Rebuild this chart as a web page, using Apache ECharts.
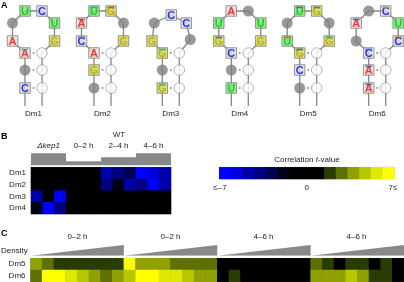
<!DOCTYPE html>
<html><head><meta charset="utf-8">
<style>html,body{margin:0;padding:0;background:#fff}#c{width:404px;height:282px}</style>
<script src="https://cdn.jsdelivr.net/npm/echarts@6/dist/echarts.min.js"></script>
</head><body><div id="c"></div>
<script>
// ---------- data ----------
const motifNames = ['Dm1','Dm2','Dm3','Dm4','Dm5','Dm6'];
// nucleotides, from the bottom of the 5' stem, round the loop; "N" = unconstrained (gray circle)
const motifStems = [['C','N','A'],['N','G','A'],['G','N','G'],['U','N','C'],['N','C','G'],['A','A','C']];
const motifLoops = [
  ['A','N','U','C','U','G'],
  ['C','A','U','G','N','G'],
  ['G','N','C','C','N'],
  ['G','U','A','N','U','G'],
  ['U','N','U','G','N','G'],
  ['N','A','N','C','U','C']
];
// nodes drawn with a compressed minor-letter band at the top of the logo: motif, node key, colour
const logoBands = [
  ['Dm2','L1','#c03030'],['Dm2','L2','#4080d0'],['Dm2','L3','#d03030'],['Dm2','L0','#4060c0'],
  ['Dm4','L0','#4060c0'],['Dm5','L0','#c06030'],['Dm5','L2','#a03060'],['Dm5','L3','#4060c0'],
  ['Dm5','L5','#30a060'],['Dm5','S2','#3050c0'],['Dm6','S2','#4060c0'],['Dm6','S1','#3050c0'],
  ['Dm6','S0','#3050c0'],['Dm6','L3','#a0a030'],['Dm6','L1','#3050c0'],['Dm6','L5','#a06030'],
  ['Dm3','S2','#40a0a0'],['Dm3','S0','#40a0a0'],['Dm1','S2','#40a0a0']
];
const sampleRows = ['Dm1','Dm2','Dm3','Dm4'];
const sampleGroups = ['Δkep1','0–2 h','2–4 h','4–6 h'];
const sampleHeights = [12,4,8,12];
const sampleDm1 = [0,0,0,0,0,0,-5,-4,-3,-7,-6,-5];
const sampleDm2 = [0,0,0,0,0,0,-4,-2,-5,-4,-7,-5];
const sampleDm3 = [-5,0,-7,0,0,0,0,0,0,0,0,0];
const sampleDm4 = [-2,-7,-4,0,0,0,0,0,0,0,0,0];
const densityRows = ['Dm5','Dm6'];
const densityGroups = ['0–2 h','0–2 h','4–6 h','4–6 h'];
const densityDm5 = [4,3,2,2,2,2,2,2, 7,4,4,4,3,3,3,3, 0,0,0,0,0,0,0,0, 3,2,0,2,2,0,2,0];
const densityDm6 = [3,7,7,6,5,4,3,4, 5,7,7,6,6,5,4,4, 0,2,0,0,0,0,0,0, 4,4,4,5,4,2,2,0];
const scaleValues = [-7,-6,-5,-4,-3,-2,-1,0,1,2,3,4,5,6,7];
const scaleLabels = ['≤–7','0','7≤'];
const levelColors = ['#0000ff','#0000dd','#0000aa','#000080','#000055','#00001a','#000000','#000000','#000000','#2a3d00','#5e7000','#8fa000','#b8c800','#e0e800','#ffff00'];

// ---------- styles / layout ----------
const FONT = '"Liberation Sans", Arial, sans-serif';
const TXT = '#222';
const LINE = '#858585';
const NT = {
  A:{fill:'#f3dcd8',ink:'#ee1111'},
  U:{fill:'#72ec72',ink:'#18b818'},
  C:{fill:'#d8dcf0',ink:'#0000cc'},
  G:{fill:'#d8d850',ink:'#a8a818'}
};
const motifX = [25,94,162.3,231.3,299.7,368.7];
const PAIR = 17;
const stemY = [88,70,53];
const hexLoop = [[-12.5,41],[-12.5,23],[0,11],[17,11],[29.5,23],[29.5,41]];
const penLoop = [[-10.3,41],[-8,23],[9,15],[24,23],[28,39.5]];

const backbone=[], nodes=[], whites=[], dots=[], bands=[];
function addNode(x,y,nt,name,key){
  if(nt==='N'){
    nodes.push({value:[x,y],symbol:'circle',symbolSize:11,itemStyle:{color:'#7f7f7f',borderWidth:0},label:{show:false}});
  }else{
    nodes.push({value:[x,y],symbol:'rect',symbolSize:10.5,
      itemStyle:{color:NT[nt].fill,borderColor:'#7d7d7d',borderWidth:1},
      label:{show:true,position:'inside',formatter:nt,color:NT[nt].ink,fontFamily:FONT,fontWeight:'bold',fontSize:11,offset:[0,0.5]}});
    const b=logoBands.find(r=>r[0]===name&&r[1]===key);
    if(b) bands.push({value:[x,y-3.6],itemStyle:{color:b[2]}});
  }
}
motifNames.forEach((name,i)=>{
  const x0=motifX[i], loop=motifLoops[i].length===5?penLoop:hexLoop;
  const path=[[x0,106]];
  stemY.forEach(y=>path.push([x0,y]));
  loop.forEach(p=>path.push([x0+p[0],p[1]]));
  [...stemY].reverse().forEach(y=>path.push([x0+PAIR,y]));
  path.push([x0+PAIR,106]);
  backbone.push(path);
  stemY.forEach((y,k)=>{
    addNode(x0,y,motifStems[i][k],name,'S'+k);
    whites.push([x0+PAIR,y]);
    dots.push([x0+PAIR/2,y]);
  });
  motifLoops[i].forEach((nt,k)=>addNode(x0+loop[k][0],loop[k][1],nt,name,'L'+k));
});

function cells(rows){const out=[];rows.forEach((r,y)=>r.forEach((v,x)=>out.push([x,y,v])));return out;}
const idx=a=>a.map((_,i)=>i);
const sampleData=cells([sampleDm1,sampleDm2,sampleDm3,sampleDm4]);
const densityData=cells([densityDm5,densityDm6]);
const scaleData=scaleValues.map((v,i)=>[i,0,v]);

const noAnim={animation:false,silent:true};
const hiddenX=(g,data)=>({gridIndex:g,type:'category',data,show:false,boundaryGap:true});
const rowAxis=(g,data)=>({gridIndex:g,type:'category',data,inverse:true,
  axisLine:{show:false},axisTick:{show:false},splitLine:{show:false},
  axisLabel:{color:TXT,fontFamily:FONT,fontSize:8,margin:5}});
const darkBack={show:true,backgroundColor:'#000',borderColor:'#cfcfcf',borderWidth:0.8};

const option={
  animation:false,backgroundColor:'#fff',
  grid:[
    {left:0,top:0,width:404,height:282},                           // 0 motifs
    {left:31,top:167.3,width:140,height:46.7,...darkBack},         // 1 B heatmap
    {left:31,top:153.2,width:140,height:12},                       // 2 B bars
    {left:30.5,top:258.3,width:373.5,height:23.4,...darkBack},     // 3 C heatmap
    {left:30.5,top:245,width:373.5,height:10.8},                   // 4 C wedges
    {left:219.3,top:167.3,width:175,height:11.7,...darkBack}       // 5 colour scale
  ],
  xAxis:[
    {gridIndex:0,type:'value',min:0,max:404,show:false},
    hiddenX(1,idx(sampleDm1)),
    {gridIndex:2,type:'category',data:sampleGroups,show:false},
    hiddenX(3,idx(densityDm5)),
    {gridIndex:4,type:'value',min:0,max:32,show:false},
    hiddenX(5,idx(scaleValues))
  ],
  yAxis:[
    {gridIndex:0,type:'value',min:0,max:282,inverse:true,show:false},
    rowAxis(1,sampleRows),
    {gridIndex:2,type:'value',min:0,max:12,show:false},
    rowAxis(3,densityRows),
    {gridIndex:4,type:'value',min:0,max:1,show:false},
    {gridIndex:5,type:'category',data:['t'],show:false}
  ],
  visualMap:{show:false,type:'piecewise',dimension:2,seriesIndex:[0,1,2],
    pieces:scaleValues.map((v,i)=>({value:v,color:levelColors[i]}))},
  series:[
    {type:'heatmap',xAxisIndex:1,yAxisIndex:1,data:sampleData,...noAnim},
    {type:'heatmap',xAxisIndex:3,yAxisIndex:3,data:densityData,...noAnim},
    {type:'heatmap',xAxisIndex:5,yAxisIndex:5,data:scaleData,...noAnim},
    {type:'bar',xAxisIndex:2,yAxisIndex:2,data:sampleHeights,barWidth:'100%',barGap:0,
      itemStyle:{color:'#888'},...noAnim},
    ...[0,8,16,24].map(s=>({type:'line',xAxisIndex:4,yAxisIndex:4,
      data:[[s,0],[s+8,1]],showSymbol:false,lineStyle:{width:0},
      areaStyle:{color:'#888',opacity:1,origin:'start'},...noAnim})),
    ...backbone.map(p=>({type:'line',xAxisIndex:0,yAxisIndex:0,data:p,showSymbol:false,z:2,
      lineStyle:{color:LINE,width:1.3},...noAnim})),
    {type:'scatter',xAxisIndex:0,yAxisIndex:0,data:dots,symbol:'circle',symbolSize:2,z:3,itemStyle:{color:'#777'},...noAnim},
    {type:'scatter',xAxisIndex:0,yAxisIndex:0,data:whites,symbol:'circle',symbolSize:10.5,z:3,
      itemStyle:{color:'#fff',borderColor:'#8a8a8a',borderWidth:0.8},...noAnim},
    {type:'scatter',xAxisIndex:0,yAxisIndex:0,data:nodes,z:4,...noAnim},
    {type:'scatter',xAxisIndex:0,yAxisIndex:0,data:bands,symbol:'rect',symbolSize:[6.5,1.6],z:5,...noAnim}
  ],
  graphic:{elements:[]}
};
const G=option.graphic.elements;
function txt(x,y,text,o){
  G.push({type:'text',x,y,silent:true,z:10,style:Object.assign({text,fill:TXT,font:'8px '+FONT,textAlign:'center',textVerticalAlign:'middle'},o||{})});
}
// panel letters
txt(1,6,'A',{font:'bold 9px '+FONT,textAlign:'left',fill:'#000'});
txt(1,137,'B',{font:'bold 9px '+FONT,textAlign:'left',fill:'#000'});
txt(1,234,'C',{font:'bold 9px '+FONT,textAlign:'left',fill:'#000'});
// motif names
motifNames.forEach((n,i)=>txt(motifX[i]+8.5,114,n));
// panel B headers
txt(119,135,'WT');
sampleGroups.forEach((n,i)=>txt(48.5+35*i,146,n,i===0?{font:'italic 8px '+FONT}:{}));
// colour scale
G.push({type:'text',x:307,y:160,silent:true,z:10,style:{
  text:'Correlation {i|t}-value',fill:TXT,font:'8px '+FONT,textAlign:'center',textVerticalAlign:'middle',
  rich:{i:{font:'italic 8px '+FONT,fill:TXT}}}});
[220,306.7,393].forEach((x,i)=>txt(x,188,scaleLabels[i]));
// panel C headers
txt(1,251,'Density',{textAlign:'left'});
densityGroups.forEach((n,i)=>txt(77.5+93*i,237,n));

echarts.init(document.getElementById('c'),null,{renderer:'canvas'}).setOption(option);
</script></body></html>
